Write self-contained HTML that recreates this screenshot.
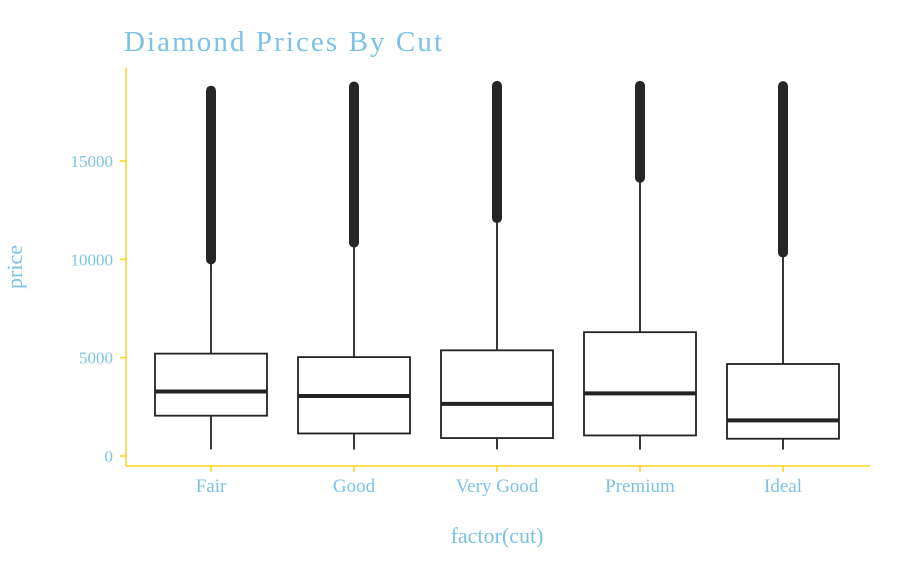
<!DOCTYPE html>
<html><head><meta charset="utf-8"><style>
body{margin:0;background:#fff}
svg text{font-family:"Liberation Serif",serif;fill:#7cc2e6}
</style></head><body>
<svg id="c" width="900" height="556" viewBox="0 0 900 556">
<text x="124" y="51" font-size="29" textLength="318">Diamond Prices By Cut</text>
<text x="22" y="267" font-size="22" transform="rotate(-90 22 267)" text-anchor="middle">price</text>
<text x="497" y="543" font-size="22" text-anchor="middle">factor(cut)</text>
<g id="axes"></g><g id="marks"></g>
</svg>
<script>
const categories=["Fair","Good","Very Good","Premium","Ideal"];
const whiskerLow=[337,327,336,326,326];
const q1=[2050,1145,912,1046,878];
const median=[3282,3050,2648,3185,1810];
const q3=[5206,5028,5373,6296,4678];
const whiskerHigh=[9950,10800,12050,14100,10300];
const outlierMin=[10000,10850,12100,14150,10350];
const outlierMax=[18574,18788,18818,18823,18806];
const yTicks=[0,5000,10000,15000];
const NS="http://www.w3.org/2000/svg";
const y=v=>456-v*(295/15000);
const x=i=>211+i*143;
const bw=112;
const ax=document.getElementById('axes'),mk=document.getElementById('marks');
function el(t,a,p){const e=document.createElementNS(NS,t);for(const k in a)e.setAttribute(k,a[k]);p.appendChild(e);return e;}
const gold="#FFD21F";
let l=el('line',{x1:126,x2:126,y1:68,y2:466,stroke:gold,'stroke-width':1.5},ax);


l=el('line',{x1:126,x2:870,y1:466,y2:466,stroke:gold,'stroke-width':1.5},ax);


yTicks.forEach(v=>{
 el('line',{x1:120,x2:126,y1:y(v),y2:y(v),stroke:gold,'stroke-width':1.5},ax);
 const t=el('text',{x:113,y:y(v)+6,'font-size':17,'text-anchor':'end'},ax);t.textContent=v;
 
 
});
categories.forEach((c,i)=>{
 el('line',{x1:x(i),x2:x(i),y1:466,y2:472,stroke:gold,'stroke-width':1.5},ax);
 const t=el('text',{x:x(i),y:492,'font-size':19,'text-anchor':'middle'},ax);t.textContent=c;
 
 
 const g=el('g',{},mk);
 
 
 el('line',{x1:x(i),x2:x(i),y1:y(whiskerLow[i]),y2:y(q1[i]),stroke:'#222','stroke-width':1.8},g);
 el('line',{x1:x(i),x2:x(i),y1:y(q3[i]),y2:y(whiskerHigh[i]),stroke:'#222','stroke-width':1.8},g);
 el('rect',{x:x(i)-bw/2,y:y(q3[i]),width:bw,height:y(q1[i])-y(q3[i]),fill:'#fff',stroke:'#222','stroke-width':1.8},g);
 el('line',{x1:x(i)-bw/2,x2:x(i)+bw/2,y1:y(median[i]),y2:y(median[i]),stroke:'#222','stroke-width':4},g);
 const o=el('line',{x1:x(i),x2:x(i),y1:y(outlierMin[i]),y2:y(outlierMax[i]),stroke:'#262626','stroke-width':10,'stroke-linecap':'round'},g);
 
 
});
</script>
</body></html>
